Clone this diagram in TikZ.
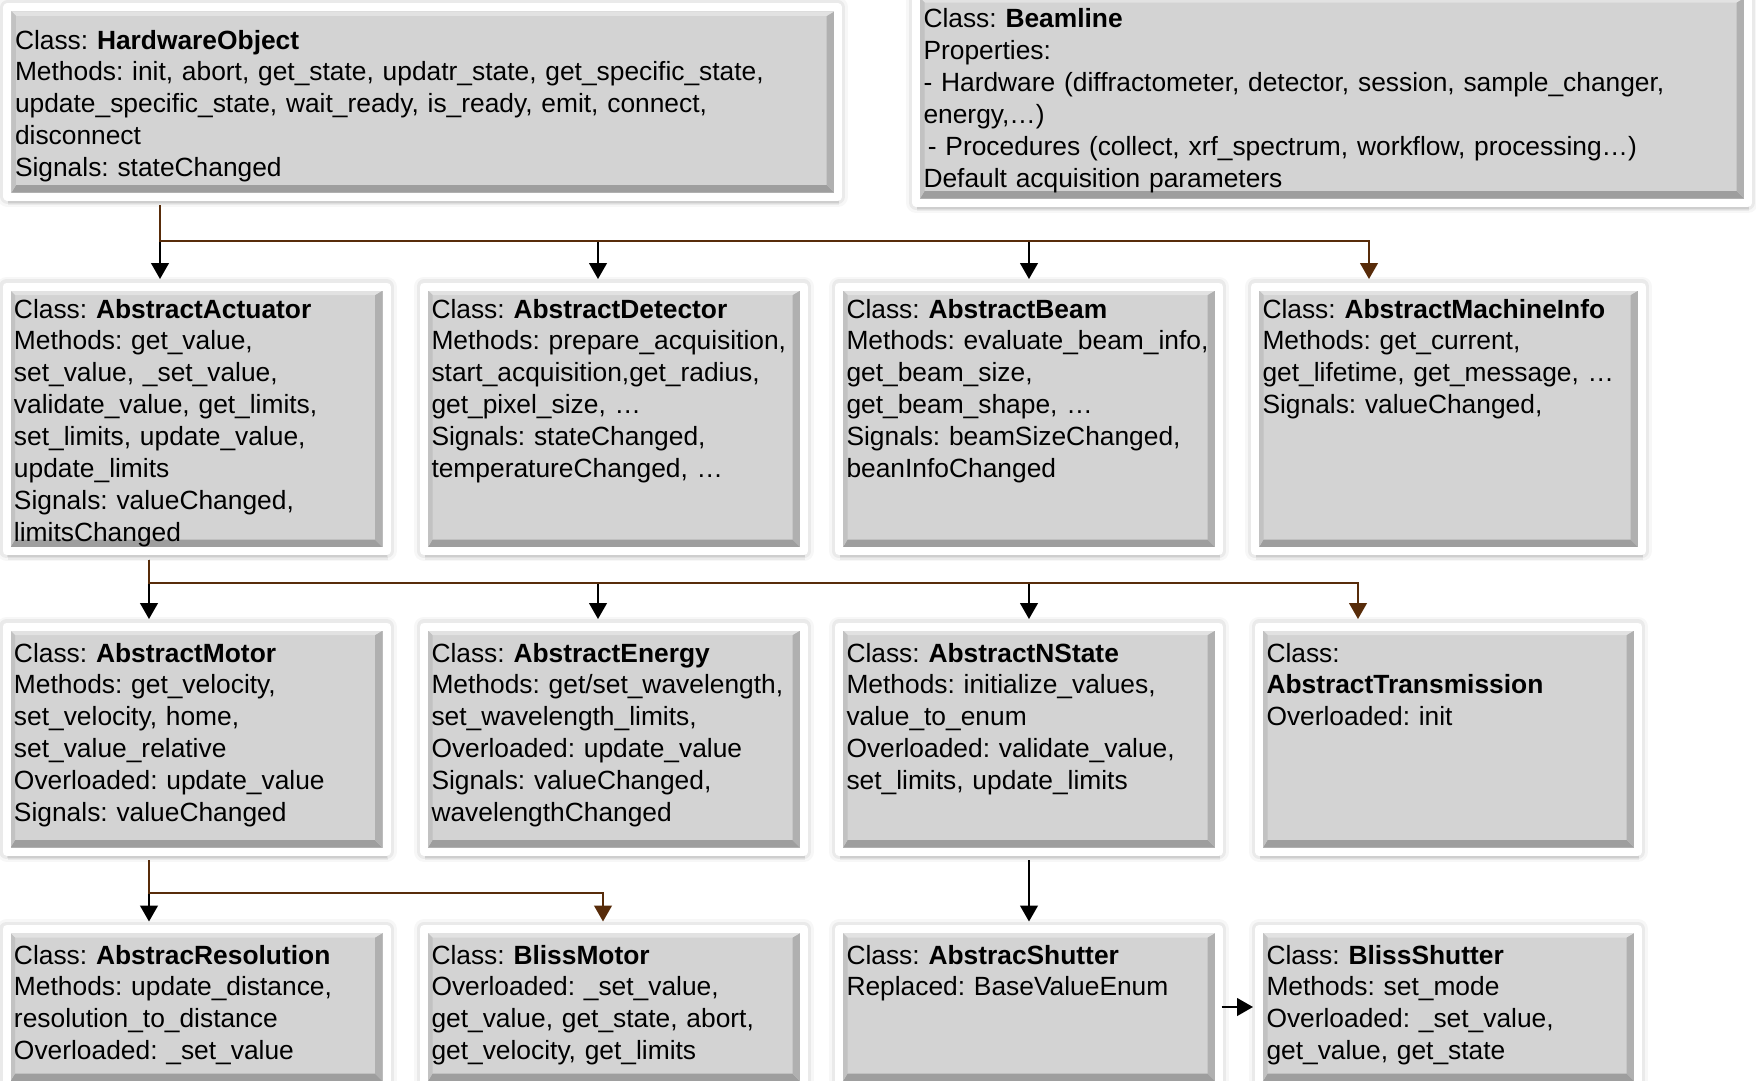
\documentclass[tikz,border=0pt]{standalone}
\usepackage{fontspec}
\setmainfont{Liberation Sans}
\usepackage{tikz}
\usetikzlibrary{arrows.meta, shadows}

\frenchspacing
\hyphenpenalty=10000
\exhyphenpenalty=10000

\definecolor{boxgray}{RGB}{211,211,211}
\definecolor{bevtop}{RGB}{226,226,226}
\definecolor{bevleft}{RGB}{194,194,194}
\definecolor{bevright}{RGB}{176,176,176}
\definecolor{bevbot}{RGB}{158,158,158}
\definecolor{linkbrown}{RGB}{88,44,10}

\tikzset{
  classbox/.style={anchor=north west, fill=boxgray, draw=white, line width=0.16cm,
    line join=round, align=left, inner xsep=0.15cm, inner ysep=0pt, outer sep=0pt,
    font=\fontsize{15}{18.2}\selectfont,
    % soft halo round the white frame
    preaction={draw=black, draw opacity=0.03, line width=0.40cm, line join=round},
    preaction={draw=black, draw opacity=0.05, line width=0.29cm, line join=round},
    drop shadow={shadow xshift=0.02cm, shadow yshift=-0.17cm, opacity=0.05, fill=black},
    drop shadow={shadow xshift=0.01cm, shadow yshift=-0.12cm, opacity=0.07, fill=black},
    path picture={
      % bevelled edge inside the white frame
      \coordinate (bsw) at ([shift={(0.08,0.08)}]path picture bounding box.south west);
      \coordinate (bne) at ([shift={(-0.08,-0.08)}]path picture bounding box.north east);
      \coordinate (isw) at ([shift={(0.09,0.15)}]bsw);
      \coordinate (ine) at ([shift={(-0.15,-0.09)}]bne);
      \fill[bevbot] (bsw) -- (bsw -| bne) -- (isw -| ine) -- (isw) -- cycle;
      \fill[bevright] (bsw -| bne) -- (bne) -- (ine) -- (isw -| ine) -- cycle;
      \fill[bevtop] (bne) -- (bne -| bsw) -- (ine -| isw) -- (ine) -- cycle;
      \fill[bevleft] (bne -| bsw) -- (bsw) -- (isw) -- (ine -| isw) -- cycle;
    }},
  rowone/.style={text height=0.63cm, text depth=4.66cm},
  rowtwo/.style={text height=0.71cm, text depth=3.79cm},
  rowthree/.style={text height=0.70cm, text depth=2.42cm},
  conn/.style={line width=1.1pt, -{Triangle[length=9pt, width=10pt]},
    shorten <=0.17cm, shorten >=0.15cm},
}

\begin{document}
\begin{tikzpicture}
\useasboundingbox (0, 0) rectangle (35.12, -21.62);

% top row
\node[classbox, text width=16.31cm, text height=0.83cm, text depth=2.95cm] (ho) at (0.15, -0.15)
  {Class: \textbf{HardwareObject}\\
   Methods: init, abort, get\_state, updatr\_state, get\_specific\_state,\\
   update\_specific\_state, wait\_ready, is\_ready, emit, connect,\\
   disconnect\\
   Signals: stateChanged};
\node[classbox, text width=16.34cm, text height=0.68cm, text depth=3.49cm] (bl) at (18.32, 0.12)
  {Class: \textbf{Beamline}\\
   Properties:\\
   - Hardware (diffractometer, detector, session, sample\_changer,\\
   energy,…)\\
   \hspace*{2.5pt}- Procedures (collect, xrf\_spectrum, workflow, processing…)\\
   Default acquisition parameters};

% second row
\node[classbox, rowone, text width=7.3cm] (act) at (0.13, -5.73)
  {Class: \textbf{AbstractActuator}\\
   Methods: get\_value,\\
   set\_value, \_set\_value,\\
   validate\_value, get\_limits,\\
   set\_limits, update\_value,\\
   update\_limits\\
   Signals: valueChanged,\\
   limitsChanged};
\node[classbox, rowone, text width=7.3cm] (det) at (8.48, -5.73)
  {Class: \textbf{AbstractDetector}\\
   Methods: prepare\_acquisition,\\
   start\_acquisition,get\_radius,\\
   get\_pixel\_size, …\\
   Signals: stateChanged,\\
   temperatureChanged, …};
\node[classbox, rowone, text width=7.3cm] (beam) at (16.78, -5.73)
  {Class: \textbf{AbstractBeam}\\
   Methods: evaluate\_beam\_info,\\
   get\_beam\_size,\\
   get\_beam\_shape, …\\
   Signals: beamSizeChanged,\\
   beanInfoChanged};
\node[classbox, rowone, text width=7.44cm] (info) at (25.10, -5.73)
  {Class: \textbf{AbstractMachineInfo}\\
   Methods: get\_current,\\
   get\_lifetime, get\_message, …\\
   Signals: valueChanged,};

% third row
\node[classbox, rowtwo, text width=7.3cm] (motor) at (0.13, -12.53)
  {Class: \textbf{AbstractMotor}\\
   Methods: get\_velocity,\\
   set\_velocity, home,\\
   set\_value\_relative\\
   Overloaded: update\_value\\
   Signals: valueChanged};
\node[classbox, rowtwo, text width=7.3cm] (energy) at (8.48, -12.53)
  {Class: \textbf{AbstractEnergy}\\
   Methods: get/set\_wavelength,\\
   set\_wavelength\_limits,\\
   Overloaded: update\_value\\
   Signals: valueChanged,\\
   wavelengthChanged};
\node[classbox, rowtwo, text width=7.3cm] (nst) at (16.78, -12.53)
  {Class: \textbf{AbstractNState}\\
   Methods: initialize\_values,\\
   value\_to\_enum\\
   Overloaded: validate\_value,\\
   set\_limits, update\_limits};
\node[classbox, rowtwo, text width=7.28cm] (trans) at (25.18, -12.53)
  {Class:\\
   \textbf{AbstractTransmission}\\
   Overloaded: init};

% bottom row
\node[classbox, rowthree, text width=7.3cm] (res) at (0.13, -18.58)
  {Class: \textbf{AbstracResolution}\\
   Methods: update\_distance,\\
   resolution\_to\_distance\\
   Overloaded: \_set\_value};
\node[classbox, rowthree, text width=7.3cm] (bmot) at (8.48, -18.58)
  {Class: \textbf{BlissMotor}\\
   Overloaded: \_set\_value,\\
   get\_value, get\_state, abort,\\
   get\_velocity, get\_limits};
\node[classbox, rowthree, text width=7.3cm] (shut) at (16.78, -18.58)
  {Class: \textbf{AbstracShutter}\\
   Replaced: BaseValueEnum};
\node[classbox, rowthree, text width=7.28cm] (bshut) at (25.18, -18.58)
  {Class: \textbf{BlissShutter}\\
   Methods: set\_mode\\
   Overloaded: \_set\_value,\\
   get\_value, get\_state};

% inheritance links
\draw[conn] ([xshift=3.05cm]ho.south west) -- ++(0, -0.89) -| ([xshift=3.07cm]act.north west);
\draw[conn] ([xshift=3.05cm]ho.south west) -- ++(0, -0.89) -| ([xshift=3.48cm]det.north west);
\draw[conn] ([xshift=3.05cm]ho.south west) -- ++(0, -0.89) -| (beam.north);
\draw[conn, linkbrown] ([xshift=3.05cm]ho.south west) -- ++(0, -0.89) -| ([xshift=2.28cm]info.north west);

\draw[conn] ([xshift=2.85cm]act.south west) -- ++(0, -0.64) -| ([xshift=2.85cm]motor.north west);
\draw[conn] ([xshift=2.85cm]act.south west) -- ++(0, -0.64) -| ([xshift=3.48cm]energy.north west);
\draw[conn] ([xshift=2.85cm]act.south west) -- ++(0, -0.64) -| (nst.north);
\draw[conn, linkbrown] ([xshift=2.85cm]act.south west) -- ++(0, -0.64) -| ([xshift=1.98cm]trans.north west);

\draw[conn] ([xshift=2.85cm]motor.south west) -- ++(0, -0.83) -| ([xshift=2.85cm]res.north west);
\draw[conn, linkbrown] ([xshift=2.85cm]motor.south west) -- ++(0, -0.83) -| ([xshift=3.58cm]bmot.north west);

\draw[conn] (nst.south) -- (shut.north);
\draw[conn, shorten <=0.05cm, shorten >=0.12cm] (shut.east) -- (bshut.west);
\end{tikzpicture}
\end{document}
